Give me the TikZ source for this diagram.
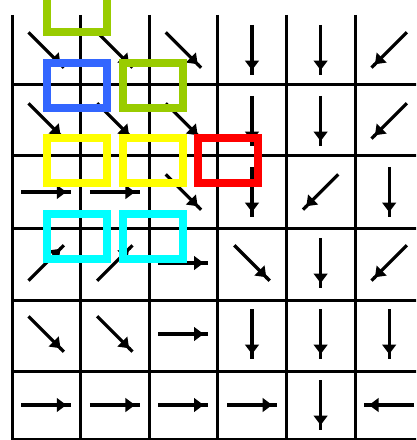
\documentclass[tikz,border=0pt]{standalone}
\usepackage{tikz}
\usepackage{xcolor}
\usetikzlibrary{arrows.meta, calc}

\definecolor{boxgreen}{RGB}{153,204,0}
\definecolor{boxblue}{RGB}{51,102,255}
\definecolor{boxyellow}{RGB}{255,255,0}
\definecolor{boxred}{RGB}{255,0,0}
\definecolor{boxcyan}{RGB}{0,255,255}

\begin{document}
\begin{tikzpicture}[x=0.25mm,y=-0.25mm,
  grid/.style={line width=0.75mm},
  vec/.style={line width=0.8mm,
    -{Triangle[width=3.4mm,length=2.4mm] Rectangle[width=0.8mm,length=1.2mm]}},
  cell/.style={draw=#1,line width=2mm,minimum width=15mm,
    minimum height=11.25mm,inner sep=0pt}]
  \useasboundingbox (0,0) rectangle (416,440);
  \clip (0,0) rectangle (416,440);
  \def\dx{68.6}
  \def\dy{71}
  % grid lines (the right border lies outside the picture)
  \foreach \x in {12,80.6,149.2,217.8,286.4,355}
    \draw[grid] (\x,15) -- (\x,445);
  \foreach \y in {85,156,228.5,300,371,439}
    \draw[grid] (12,\y) -- (420,\y);
  % one arrow per cell, angle 0 = right, 90 = down
  \foreach \r/\dirs in {0/{45,45,45,90,90,135},
                        1/{45,45,45,90,90,135},
                        2/{0,0,45,90,135,90},
                        3/{-45,-45,0,45,90,135},
                        4/{45,45,0,90,90,90},
                        5/{0,0,0,0,90,180}}{
    \foreach \a [count=\c from 0] in \dirs
      \draw[vec] ($(\c*\dx+46.2,\r*\dy+50)+(\a+180:25)$) -- ++(\a:50);
  }
  % highlighted cells
  \node[cell=boxgreen]  (top)   at (77,10)      {};
  \node[cell=boxblue]   (blue)  at (77,85.5)    {};
  \node[cell=boxgreen]  (green) at (152.5,85.5) {};
  \node[cell=boxyellow] (ylwA)  at (77,161)     {};
  \node[cell=boxyellow] (ylwB)  at (152.5,161)  {};
  \node[cell=boxred]    (red)   at (228,161)    {};
  \node[cell=boxcyan]   (cynA)  at (77,236.5)   {};
  \node[cell=boxcyan]   (cynB)  at (152.5,236.5) {};
\end{tikzpicture}
\end{document}
